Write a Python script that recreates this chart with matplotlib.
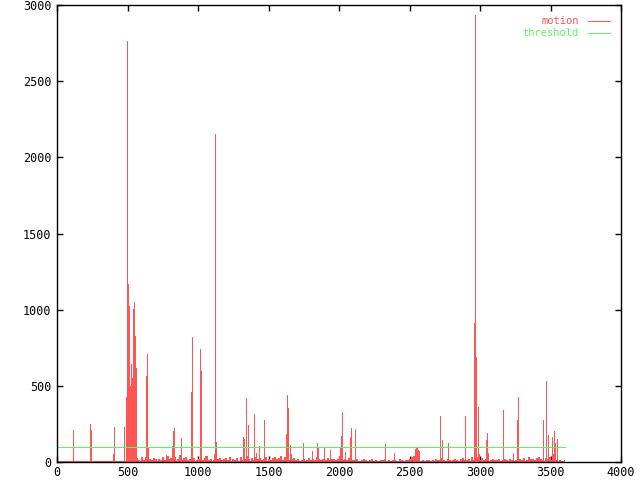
import numpy as np
import matplotlib
matplotlib.use("Agg")
import matplotlib.pyplot as plt

# tall motion spikes (frame, motion)
spike_frames = [113, 236, 243, 397, 405, 476, 489, 498, 504, 508, 515, 522, 529,
                536, 543, 550, 557, 631, 638, 645, 773, 790, 815, 822, 830, 879,
                950, 957, 1014, 1021, 1050, 1113, 1120, 1127, 1319, 1326, 1340,
                1354, 1397, 1411, 1432, 1468, 1624, 1631, 1638, 1652, 1660, 1744,
                1808, 1843, 1850, 1893, 1936, 2006, 2014, 2021, 2042, 2077, 2084,
                2115, 2326, 2390, 2540, 2547, 2554, 2561, 2568, 2716, 2730, 2772,
                2893, 2959, 2966, 2973, 2987, 2995, 3044, 3051, 3060, 3164, 3235,
                3264, 3271, 3448, 3469, 3483, 3512, 3519, 3526, 3533, 3547, 3595]
spike_values = [210, 249, 210, 55, 231, 231, 428, 2765, 1170, 1022, 498, 642, 550,
                1002, 1048, 825, 616, 563, 707, 94, 46, 40, 105, 203, 223, 157,
                458, 819, 740, 596, 40, 55, 2150, 131, 164, 150, 419,
                242, 314, 62, 105, 275, 183, 439, 354, 110, 50, 128,
                72, 124, 100, 96, 78, 100, 170, 327, 65, 164, 223,
                216, 118, 59, 85, 95, 95, 80, 70, 301, 144, 124,
                301, 910, 2934, 688, 360, 50, 144, 190, 60, 341, 60,
                275, 426, 275, 530, 177, 164, 55, 203, 124, 150, 10]

# low background motion, one value every 15 frames from frame 570
noise_start = 570
noise_step = 15
noise_values = [25, 10, 30, 15, 35, 8, 20, 12, 28, 18, 22, 10, 30, 14, 40, 20, 26, 12, 35, 18,
                45, 15, 24, 30, 12, 20, 8, 28, 15,
                18, 30, 10, 25, 40, 15, 22, 12, 35, 20, 28, 10, 18, 26, 14, 32, 20, 12, 24, 8,
                30, 16, 22, 40, 18, 26, 12, 35, 20, 28, 15, 22, 30,
                20, 12, 28, 35, 18, 24, 40, 15, 30, 22, 10, 18, 26, 12, 20, 8, 15, 22, 10, 28,
                14, 20, 12, 30, 18, 10, 22, 16, 25, 12, 18, 20, 14,
                22, 30, 15, 20, 12, 25, 18, 10, 15, 22, 8, 12, 18, 10, 5, 14, 20, 8, 12, 6,
                15, 10, 18, 8, 12, 5, 10, 14, 8, 20, 12, 6, 15,
                10, 20, 35, 40, 30, 15, 8, 12, 5, 10, 15, 8, 12, 20, 10, 14, 25, 12, 8, 18,
                10, 15, 22, 12, 8, 18, 25, 14, 10, 20, 30, 15, 22,
                30, 15, 25, 10, 20, 35, 12, 18, 10, 15, 22, 8, 12, 18, 10, 20, 14, 8, 16, 12,
                20, 10, 25, 15, 30, 18, 22, 12, 28, 35, 20, 15, 25, 18, 30, 12, 20, 10, 8, 12]

threshold = 100

noise_frames = noise_start + noise_step * np.arange(len(noise_values))
all_frames = np.concatenate([spike_frames, noise_frames])

red = "#ff5555"
green = "#60f060"
mono = "DejaVu Sans Mono"
px = 0.72  # one pixel in points at 100 dpi

fig = plt.figure(figsize=(6.4, 4.8), dpi=100)
ax = fig.add_axes([57 / 640, 18 / 480, 564 / 640, 457 / 480])

# impulses
ax.vlines(noise_frames, 0, noise_values, color=red, lw=2 * px, antialiased=False)
ax.vlines(spike_frames, 0, spike_values, color=red, lw=px, antialiased=False)
ax.plot([0, all_frames.max()], [0, 0], color=red, lw=2 * px, antialiased=False)
ax.plot([0, all_frames.max() + 10], [threshold, threshold], color=green, lw=px,
        antialiased=False)

ax.set_xlim(0, 4000)
ax.set_ylim(0, 3000)
ax.set_xticks(np.arange(0, 4001, 500))
ax.set_yticks(np.arange(0, 3001, 500))
ax.tick_params(direction="in", length=4, width=1, top=True, right=True,
               labelsize=8.5, pad=4, colors="black")
ax.tick_params(axis="x", pad=3)
for lab in ax.get_xticklabels() + ax.get_yticklabels():
    lab.set_family(mono)
for sp in ax.spines.values():
    sp.set_linewidth(1)

# legend, gnuplot style: right-aligned labels with line samples
for i, (name, col) in enumerate([("motion", red), ("threshold", green)]):
    y = 1 - (16 + 11.5 * i) / 457
    ax.text(522 / 564, y, name, color=col, family=mono, fontsize=7.5,
            ha="right", va="center", transform=ax.transAxes)
    ax.plot([531 / 564, 553 / 564], [y, y], color=col, lw=px,
            transform=ax.transAxes, antialiased=False)

fig.savefig("out.png", dpi=100)
